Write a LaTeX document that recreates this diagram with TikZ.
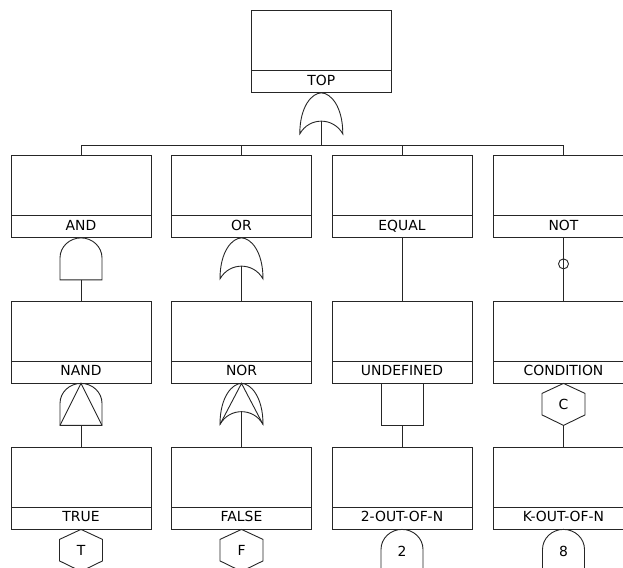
\documentclass[tikz,border=0pt]{standalone}
\usepackage{fontspec}
\setmainfont{DejaVu Sans}
\usetikzlibrary{calc}
\tikzset{
  ln/.style={draw=black!85, line width=0.9pt},
  evbox/.style={ln, rectangle, minimum width=140pt, minimum height=82pt, inner sep=0pt, anchor=north},
  evlabel/.style={ln, rectangle, minimum width=140pt, minimum height=22pt, inner sep=0pt, anchor=south, text height=10.2pt, text depth=2.6pt, font=\fontsize{13.9}{16}\selectfont},
  gatetxt/.style={font=\fontsize{13.9}{16}\selectfont, inner sep=0pt},
}
\newcommand{\fteevent}[4]{%
  \node[evbox] (#1) at (#2,#3) {};
  \node[evlabel] (#1l) at (#1.south) {#4};
}
\newcommand{\fteorshape}{%
  \draw[ln] (-21.5,41) .. controls (-21.5,13) and (-9,0) .. (0,0) .. controls (9,0) and (21.5,13) .. (21.5,41) .. controls (12,24) and (-12,24) .. (-21.5,41) -- cycle;
}
\newcommand{\fteandshape}{%
  \draw[ln] (-21,42) -- (-21,20) .. controls (-21,9) and (-11.6,0) .. (0,0) .. controls (11.6,0) and (21,9) .. (21,20) -- (21,42) -- cycle;
}
\newcommand{\fteor}[2]{%
  \begin{scope}[shift={(#2)}]
    \fteorshape
    \coordinate (#1) at (0,0);
    \coordinate (#1-out) at (0,28);
  \end{scope}
}
\newcommand{\ftenor}[2]{%
  \begin{scope}[shift={(#2)}]
    \fteorshape
    \draw[ln] (-21.5,41) -- (0,0) -- (21.5,41);
    \coordinate (#1) at (0,0);
    \coordinate (#1-out) at (0,28.5);
  \end{scope}
}
\newcommand{\fteand}[2]{%
  \begin{scope}[shift={(#2)}]
    \fteandshape
    \coordinate (#1) at (0,0);
    \coordinate (#1-out) at (0,42);
  \end{scope}
}
\newcommand{\ftenand}[2]{%
  \begin{scope}[shift={(#2)}]
    \fteandshape
    \draw[ln] (-21,42) -- (0,0) -- (21,42);
    \coordinate (#1) at (0,0);
    \coordinate (#1-out) at (0,42);
  \end{scope}
}
\newcommand{\ftehex}[3]{%
  \begin{scope}[shift={(#2)}]
    \draw[ln] (0,0) -- (21.5,10) -- (21.5,31.5) -- (0,42) -- (-21.5,31.5) -- (-21.5,10) -- cycle;
    \node[gatetxt] (#1) at (0,21) {#3};
    \coordinate (#1-out) at (0,42);
  \end{scope}
}
\newcommand{\ftevote}[3]{%
  \begin{scope}[shift={(#2)}]
    \draw[ln] (-21,70) -- (-21,20) .. controls (-21,9) and (-11.6,0) .. (0,0) .. controls (11.6,0) and (21,9) .. (21,20) -- (21,70);
    \node[gatetxt] (#1) at (0,22) {#3};
  \end{scope}
}
\begin{document}
\begin{tikzpicture}[x=1pt,y=-1pt]
\clip (0,0) rectangle (623,567);
\useasboundingbox (0,0) rectangle (623,567);

% events
\fteevent{TOP}{321.3}{10}{TOP}
\fteevent{E1}{81}{155}{AND}
\fteevent{E2}{241.5}{155}{OR}
\fteevent{E3}{402}{155}{EQUAL}
\fteevent{E4}{563.5}{155}{NOT}
\fteevent{E5}{81}{300.5}{NAND}
\fteevent{E6}{241.5}{300.5}{NOR}
\fteevent{E7}{402}{300.5}{UNDEFINED}
\fteevent{E8}{563.5}{300.5}{CONDITION}
\fteevent{E9}{81}{446.5}{TRUE}
\fteevent{E10}{241.5}{446.5}{FALSE}
\fteevent{E11}{402}{446.5}{2-OUT-OF-N}
\fteevent{E12}{563.5}{446.5}{K-OUT-OF-N}

% gates
\fteor{g0}{TOPl.south}
\fteand{g1}{E1l.south}
\fteor{g2}{E2l.south}
\node[ln, circle, minimum size=10pt, inner sep=0pt] (g4) at ($(E4l.south)+(0,26)$) {};
\ftenand{g5}{E5l.south}
\ftenor{g6}{E6l.south}
\node[ln, rectangle, minimum size=42pt, inner sep=0pt, anchor=north] (g7) at (E7l.south) {};
\ftehex{g8}{E8l.south}{C}
\ftehex{g9}{E9l.south}{T}
\ftehex{g10}{E10l.south}{F}
\ftevote{g11}{E11l.south}{2}
\ftevote{g12}{E12l.south}{8}

% connectors
\coordinate (bus) at (321.3,145);
\draw[ln] (g0-out) -- (bus);
\draw[ln] (E1.north) -- (E1.north |- bus) -- (E4.north |- bus) -- (E4.north);
\draw[ln] (E2.north) -- (E2.north |- bus);
\draw[ln] (E3.north) -- (E3.north |- bus);
\draw[ln] (g1-out) -- (E5.north);
\draw[ln] (g2-out) -- (E6.north);
\draw[ln] (E3l.south) -- (E7.north);
\draw[ln] (E4l.south) -- (E8.north);
\draw[ln] (g5-out) -- (E9.north);
\draw[ln] (g6-out) -- (E10.north);
\draw[ln] (g7.south) -- (E11.north);
\draw[ln] (g8-out) -- (E12.north);
\end{tikzpicture}
\end{document}
